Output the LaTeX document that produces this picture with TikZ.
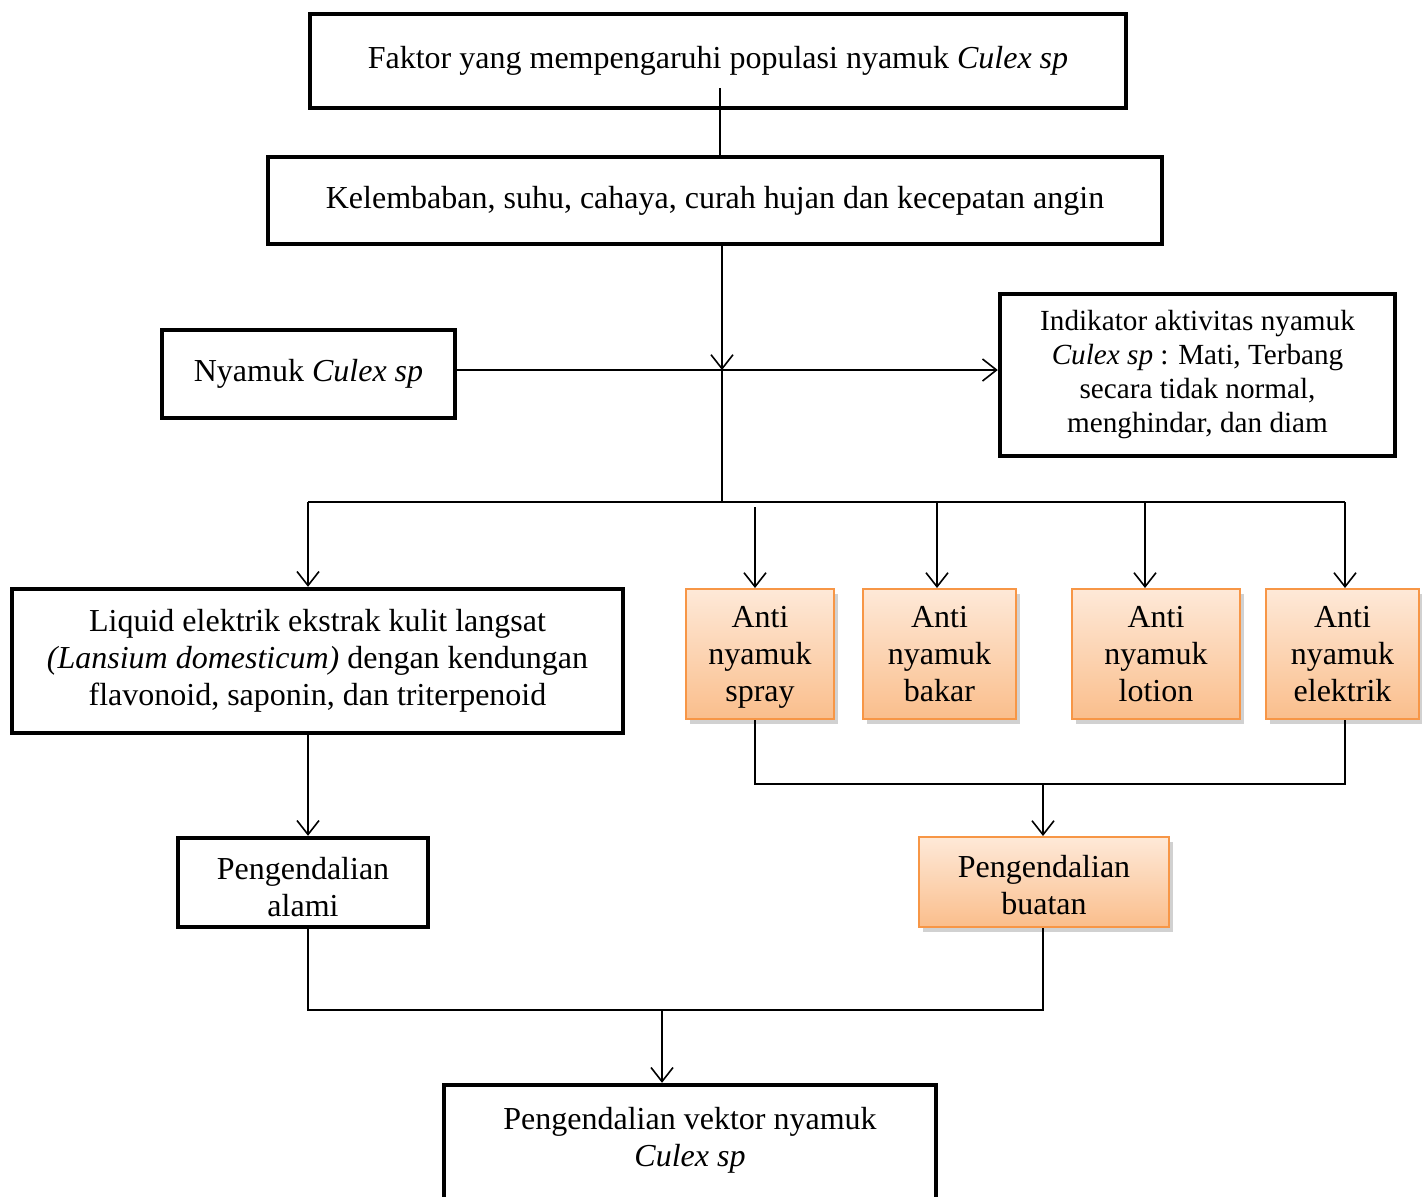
\documentclass[tikz,border=0pt]{standalone}
\usepackage{fontspec}
\setmainfont{Liberation Serif}
\usetikzlibrary{arrows.meta,shadows}
\definecolor{orangeline}{RGB}{247,150,70}
\definecolor{orangetop}{RGB}{254,233,216}
\definecolor{orangebot}{RGB}{250,190,140}
\begin{document}
\begin{tikzpicture}[x=0.5pt,y=-0.5pt,
  every node/.style={font=\fontsize{16}{18.5}\selectfont, inner sep=0pt, align=center},
  box/.style={draw=black, line width=2.2pt, fill=white},
  obox/.style={draw=orangeline, line width=1pt, top color=orangetop, bottom color=orangebot,
     drop shadow={shadow xshift=2pt, shadow yshift=-2.5pt, fill=black, opacity=0.18}},
  conn/.style={line width=0.8pt},
  arr/.style={line width=0.8pt, -{Straight Barb[length=7pt,width=11pt,line width=0.8pt]}}]
\clip (0,0) rectangle (1422,1196);
\fill[white] (0,0) rectangle (1422,1196);
% boxes
\node[box, minimum width=408pt, minimum height=47pt] (top) at (718,61)
  {Faktor yang mempengaruhi populasi nyamuk \textit{Culex sp}};
\node[box, minimum width=447pt, minimum height=43.5pt] (second) at (715,200.5)
  {Kelembaban, suhu, cahaya, curah hujan dan kecepatan angin};
\node[box, minimum width=146.5pt, minimum height=44pt] (nyamuk) at (308.5,374)
  {Nyamuk \textit{Culex sp}};
\node[box, minimum width=197.5pt, minimum height=81pt,
  font=\fontsize{14.6}{17}\selectfont] (indikator) at (1197.5,375)
  {Indikator aktivitas nyamuk\\ \textit{Culex sp} : Mati, Terbang\\ secara tidak normal,\\ menghindar, dan diam};
\node[box, minimum width=305.5pt, minimum height=72pt] (liquid) at (317.5,661)
  {Liquid elektrik ekstrak kulit langsat\\ \textit{(Lansium domesticum)} dengan kendungan\\ flavonoid, saponin, dan triterpenoid};
\node[obox, minimum width=74pt, minimum height=65pt] (spray) at (760,654)
  {Anti\\ nyamuk\\ \smash{spray}};
\node[obox, minimum width=76.5pt, minimum height=65pt] (bakar) at (939.5,654)
  {Anti\\ nyamuk\\ bakar};
\node[obox, minimum width=84pt, minimum height=65pt] (lotion) at (1156,654)
  {Anti\\ nyamuk\\ lotion};
\node[obox, minimum width=76.5pt, minimum height=65pt] (elektrik) at (1342.5,654)
  {Anti\\ nyamuk\\ elektrik};
\node[box, minimum width=125pt, minimum height=44.5pt] (alami) at (303,882.5)
  {\rule{0pt}{16pt}Pengendalian\\ alami};
\node[obox, minimum width=125pt, minimum height=45pt] (buatan) at (1044,882)
  {\rule{0pt}{14pt}Pengendalian\\ buatan};
\node[box, minimum width=246pt, minimum height=82pt] (final) at (690,1167) {};
\node (finaltext) at (690,1140) {Pengendalian vektor nyamuk\\ \textit{Culex sp}};
% coordinates
\coordinate (c0) at (720,88);
\coordinate (t1) at (722,370);
\coordinate (t2) at (722,502);
\coordinate (hL) at (308,502);
\coordinate (hR) at (1345,502);
\coordinate (s1) at (755,507);
\coordinate (s2) at (937,502);
\coordinate (s3) at (1145,502);
\coordinate (b1) at (755,784);
\coordinate (b2) at (1345,784);
\coordinate (b3) at (1043,784);
\coordinate (lx) at (308,800);
\coordinate (d1) at (308,1010);
\coordinate (d2) at (1043,1010);
\coordinate (d3) at (662,1010);
% connectors
\draw[conn] (c0) -- (c0 |- second.north);
\draw[arr] (t1 |- second.south) -- (t1);
\draw[conn] (t1) -- (t2);
\draw[arr] (nyamuk.east |- t1) -- (indikator.west |- t1);
\draw[conn] (hL) -- (hR);
\draw[arr] (hL) -- (hL |- liquid.north);
\draw[arr] (s1) -- (s1 |- spray.north);
\draw[arr] (s2) -- (s2 |- bakar.north);
\draw[arr] (s3) -- (s3 |- lotion.north);
\draw[arr] (hR) -- (hR |- elektrik.north);
\draw[conn] (b1 |- spray.south) -- (b1) -- (b2) -- (b2 |- elektrik.south);
\draw[arr] (b3) -- (b3 |- buatan.north);
\draw[arr] (lx |- liquid.south) -- (lx |- alami.north);
\draw[conn] (d1 |- alami.south) -- (d1) -- (d2) -- (d2 |- buatan.south);
\draw[arr] (d3) -- (d3 |- final.north);
\end{tikzpicture}
\end{document}
